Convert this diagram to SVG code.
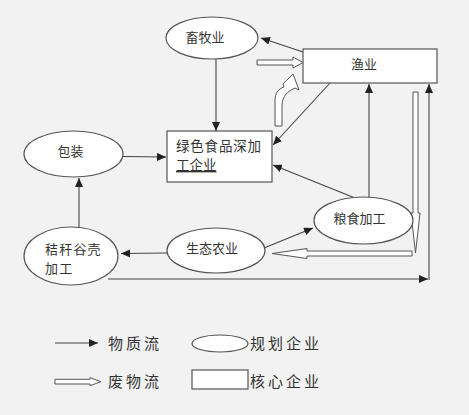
<svg xmlns="http://www.w3.org/2000/svg" width="469" height="415" viewBox="0 0 469 415">
<style>
.bg{fill:#f2f2f2}
.node{fill:#fff;stroke:#555;stroke-width:1.2}
.ln{fill:none;stroke:#444;stroke-width:1.1}
.hollow{fill:#fff;stroke:#555;stroke-width:1}
text{font-family:"Noto Sans CJK SC","Noto Sans CJK JP",sans-serif;fill:#333;font-size:13px}
.big{font-size:13.5px}
.leg{font-size:15px;letter-spacing:3px}
</style>
<defs>
<marker id="ah" markerUnits="userSpaceOnUse" markerWidth="10" markerHeight="8" refX="9" refY="4" orient="auto">
<path d="M0,0 L9,4 L0,8 Z" fill="#222"/>
</marker>
</defs>
<rect class="bg" x="0" y="0" width="469" height="415"/>
<g id="connectors">
<line class="ln" x1="303" y1="52" x2="261" y2="38" marker-end="url(#ah)"/>
<line class="ln" x1="216" y1="59" x2="216" y2="131" marker-end="url(#ah)"/>
<line class="ln" x1="123" y1="156.5" x2="166" y2="157" marker-end="url(#ah)"/>
<line class="ln" x1="79" y1="227" x2="79" y2="178" marker-end="url(#ah)"/>
<line class="ln" x1="167" y1="253" x2="121" y2="253.5" marker-end="url(#ah)"/>
<line class="ln" x1="330" y1="83" x2="273" y2="145" marker-end="url(#ah)"/>
<line class="ln" x1="355" y1="198" x2="273" y2="165" marker-end="url(#ah)"/>
<line class="ln" x1="369" y1="197" x2="369" y2="84" marker-end="url(#ah)"/>
<line class="ln" x1="264" y1="248" x2="313" y2="228" marker-end="url(#ah)"/>
<line class="ln" x1="108" y1="279" x2="428" y2="279" marker-end="url(#ah)"/>
<line class="ln" x1="429" y1="280" x2="429" y2="84" marker-end="url(#ah)"/>
<path class="hollow" d="M257,60 L293,60 L293,57 L303,62.5 L293,68 L293,65 L257,65 Z"/>
<path class="hollow" d="M275,126 L275,101 C275,93 278,89 284,87 L283,84 L293,74 L299,90 L295,88 C288,91 282,96 282,106 L282,126 Z"/>
<path class="hollow" d="M413,92 L418,92 L418,213 L420,213 L415.5,253 L411,213 L413,213 Z"/>
<path class="hollow" d="M412,251 L412,256 L307,256 L307,258.5 L272,253.5 L307,248.5 L307,251 Z"/>
</g>
<g id="xumuye">
<ellipse class="node" cx="212" cy="38" rx="46" ry="21"/>
<text x="205" y="42" text-anchor="middle">畜牧业</text>
</g>
<g id="yuye">
<rect class="node" x="303" y="49" width="134" height="34"/>
<text x="364" y="69" text-anchor="middle">渔业</text>
</g>
<g id="lvse">
<rect class="node" x="167" y="131" width="105" height="51"/>
<text class="big" x="176" y="151" letter-spacing="0.8">绿色食品深加</text>
<text class="big" x="176" y="170" text-decoration="underline">工企业</text>
</g>
<g id="baozhuang">
<ellipse class="node" cx="73.5" cy="154" rx="49.5" ry="23"/>
<text x="70.5" y="156" text-anchor="middle">包装</text>
</g>
<g id="jiegan">
<ellipse class="node" cx="71" cy="256" rx="47" ry="29"/>
<text x="45" y="254" letter-spacing="1.2">秸秆谷壳</text>
<text x="45" y="273" letter-spacing="1.2">加工</text>
</g>
<g id="shengtai">
<ellipse class="node" cx="216" cy="250.5" rx="49" ry="22.5"/>
<text x="212" y="253" text-anchor="middle">生态农业</text>
</g>
<g id="liangshi">
<ellipse class="node" cx="363.5" cy="220.5" rx="49.5" ry="23.5"/>
<text x="359.5" y="223" text-anchor="middle">粮食加工</text>
</g>
<g id="legend">
<line class="ln" x1="55" y1="343" x2="98" y2="343" marker-end="url(#ah)"/>
<text class="leg" x="108" y="349">物质流</text>
<ellipse class="node" cx="220" cy="343.5" rx="28" ry="8.5"/>
<text class="leg" x="250" y="349">规划企业</text>
<path class="hollow" d="M55,379.3 L90,379.3 L90,377.7 L101,381.7 L90,385.7 L90,384 L55,384 Z"/>
<text class="leg" x="108" y="387">废物流</text>
<rect class="node" x="192" y="370" width="56" height="19"/>
<text class="leg" x="250" y="387">核心企业</text>
</g>
</svg>
